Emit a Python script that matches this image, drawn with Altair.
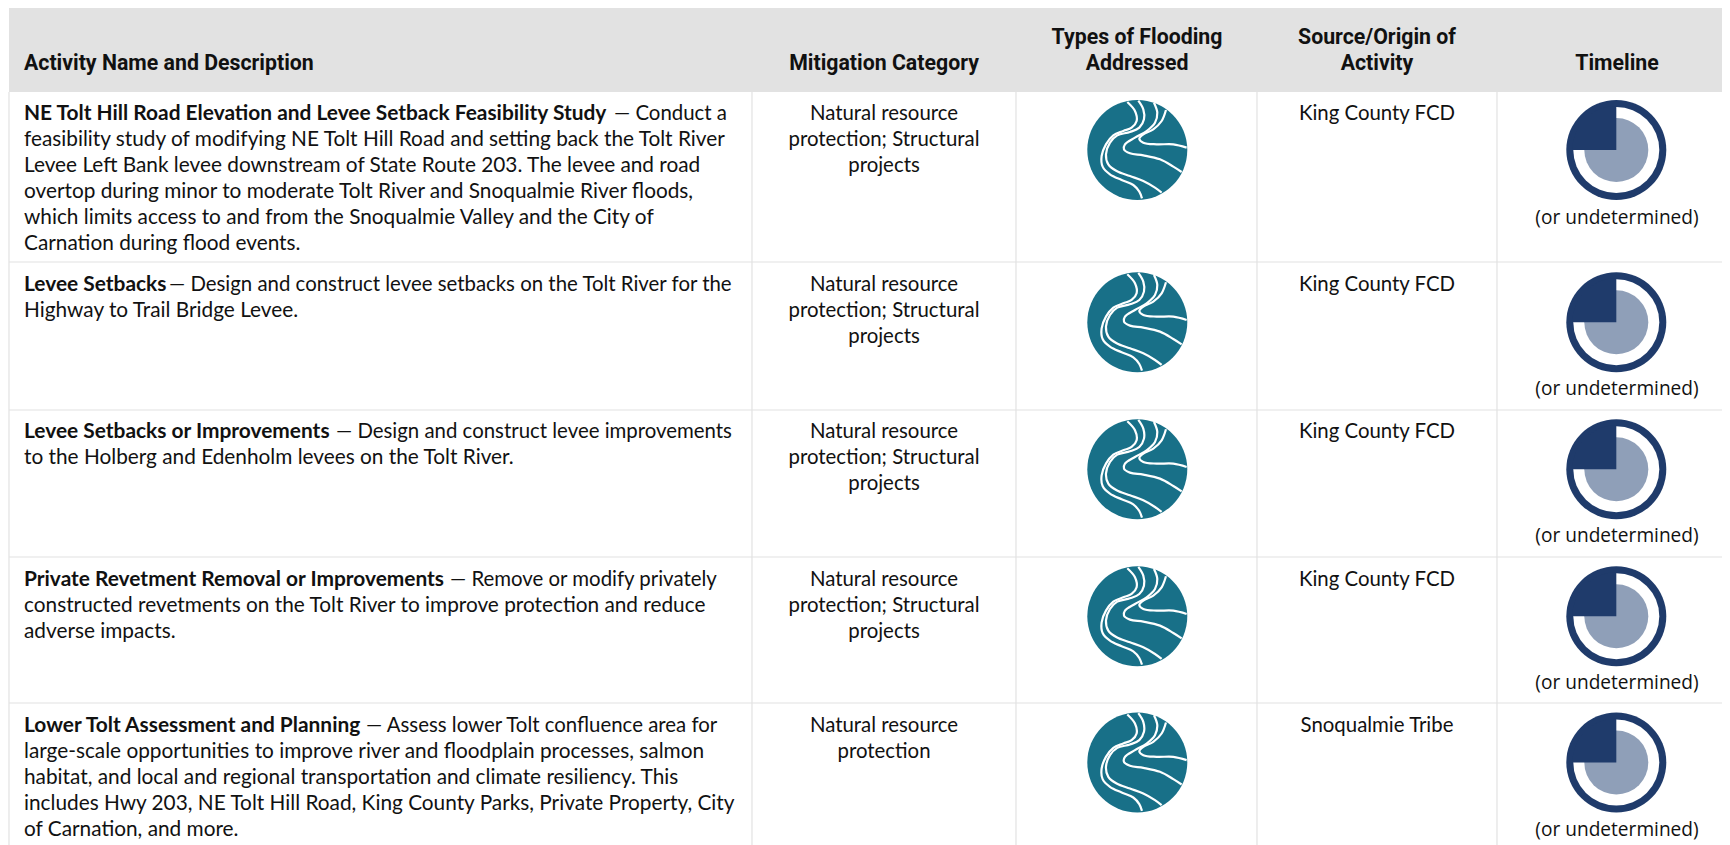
import math
import altair as alt
import pandas as pd

# ---- table content ----
HEADERS = [
    ["Activity Name and Description"],
    ["Mitigation Category"],
    ["Types of Flooding", "Addressed"],
    ["Source/Origin of", "Activity"],
    ["Timeline"],
]
ACTIVITY_BOLD = [
    "NE Tolt Hill Road Elevation and Levee Setback Feasibility Study",
    "Levee Setbacks",
    "Levee Setbacks or Improvements",
    "Private Revetment Removal or Improvements",
    "Lower Tolt Assessment and Planning",
]
ACTIVITY_FIRST_REST = [
    "\u2014 Conduct a",
    "\u2014 Design and construct levee setbacks on the Tolt River for the",
    "\u2014 Design and construct levee improvements",
    "\u2014 Remove or modify privately",
    "\u2014 Assess lower Tolt confluence area for",
]
ACTIVITY_LINES = [
    ["feasibility study of modifying NE Tolt Hill Road and setting back the Tolt River",
     "Levee Left Bank levee downstream of State Route 203. The levee and road",
     "overtop during minor to moderate Tolt River and Snoqualmie River floods,",
     "which limits access to and from the Snoqualmie Valley and the City of",
     "Carnation during flood events."],
    ["Highway to Trail Bridge Levee."],
    ["to the Holberg and Edenholm levees on the Tolt River."],
    ["constructed revetments on the Tolt River to improve protection and reduce",
     "adverse impacts."],
    ["large-scale opportunities to improve river and floodplain processes, salmon",
     "habitat, and local and regional transportation and climate resiliency. This",
     "includes Hwy 203, NE Tolt Hill Road, King County Parks, Private Property, City",
     "of Carnation, and more."],
]
CATEGORY_LINES = [
    ["Natural resource", "protection; Structural", "projects"],
    ["Natural resource", "protection; Structural", "projects"],
    ["Natural resource", "protection; Structural", "projects"],
    ["Natural resource", "protection; Structural", "projects"],
    ["Natural resource", "protection"],
]
SOURCES = ["King County FCD", "King County FCD", "King County FCD", "King County FCD", "Snoqualmie Tribe"]
TIMELINE_NOTE = "(or undetermined)"

# river icon curves
CURVES = {
    "a": ([142, 165, 170, 155, 130, 100, 78, 65, 68, 90, 125, 160, 178, 186],
          [28, 55, 85, 105, 115, 128, 155, 190, 222, 245, 262, 277, 297, 317]),
    "b": ([175, 190, 192, 178, 150, 112, 90, 78, 85, 110, 150, 190, 225, 245],
          [24, 50, 80, 105, 118, 128, 150, 185, 215, 235, 250, 265, 285, 300]),
    "c": ([222, 232, 225, 200, 165, 135, 132, 150, 190, 240, 280, 305],
          [30, 60, 90, 115, 135, 155, 170, 182, 188, 200, 222, 238]),
    "d": ([258, 245, 220, 190, 178, 190, 230, 280, 320],
          [52, 85, 110, 125, 138, 150, 155, 155, 165]),
}

# ---- layout (page pixels) ----
ROW_TOPS = [92, 262, 410, 557, 703]
FIRST_LINE = [114, 285, 432, 580, 726]
ICON_Y = [150, 322.3, 469.3, 616.3, 762.5]
NOTE_Y = [218, 389, 536, 683, 830]
COL_LINES = [752, 1016, 1257, 1497]
COL_CENTERS = [None, 884, 1137, 1377, 1617]
ICON_X, CLOCK_X = 1137.3, 1616.3
DASH_X = [614, 169, 336, 450, 366]
LEFT_X = 24
LH = 25.9
BOTTOM = 845
RIGHT = 1722

BODY_FONT = "Lato"
HEAD_FONT = "Roboto"

xs = alt.Scale(domain=[8, 1722], range=[0, 1714], nice=False, zero=False)
ys = alt.Scale(domain=[8, 845], range=[0, 837], nice=False, zero=False)
X = alt.X("x:Q", scale=xs, axis=None)
Y = alt.Y("y:Q", scale=ys, axis=None)

# header
header_bg = alt.Chart(pd.DataFrame([{"x": 9, "x2": RIGHT, "y": 8, "y2": ROW_TOPS[0]}])).mark_rect(color="#e2e2e2").encode(
    x=X, x2="x2:Q", y=Y, y2="y2:Q")

rules_h = pd.DataFrame([{"x": 9, "x2": RIGHT, "y": t, "y2": t} for t in ROW_TOPS[1:]])
rules_v = pd.DataFrame([{"x": c, "x2": c, "y": ROW_TOPS[0], "y2": BOTTOM} for c in [9] + COL_LINES])
rules = pd.concat([rules_h, rules_v])
rule_layer = alt.Chart(rules).mark_rule(color="#e2e2e2", strokeWidth=1.2).encode(x=X, x2="x2:Q", y=Y, y2="y2:Q")

head_rows = []
for j, lines in enumerate(HEADERS):
    n = len(lines)
    for i, t in enumerate(lines):
        yy = 64 - (n - 1 - i) * 26
        head_rows.append({"x": LEFT_X if j == 0 else COL_CENTERS[j], "y": yy, "t": t, "a": "left" if j == 0 else "center"})
head_df = pd.DataFrame(head_rows)
head_left = alt.Chart(head_df[head_df.a == "left"]).mark_text(
    font=HEAD_FONT, fontWeight="bold", fontSize=21.3, align="left", baseline="middle", color="#111111"
).encode(x=X, y=Y, text="t:N")
head_center = alt.Chart(head_df[head_df.a == "center"]).mark_text(
    font=HEAD_FONT, fontWeight="bold", fontSize=21.3, align="center", baseline="middle", color="#111111"
).encode(x=X, y=Y, text="t:N")

# body text
bold_df = pd.DataFrame([{"x": LEFT_X, "y": FIRST_LINE[r], "t": ACTIVITY_BOLD[r]} for r in range(5)])
bold_layer = alt.Chart(bold_df).mark_text(
    font=BODY_FONT, fontWeight="bold", fontSize=20.9, align="left", baseline="middle", color="#111111"
).encode(x=X, y=Y, text="t:N")

rest_df = pd.DataFrame([{"x": DASH_X[r], "y": FIRST_LINE[r], "t": ACTIVITY_FIRST_REST[r]} for r in range(5)])
rest_layer = alt.Chart(rest_df).mark_text(
    font=BODY_FONT, fontSize=20.4, align="left", baseline="middle", color="#111111"
).encode(x=X, y=Y, text="t:N")

reg_rows = []
for r in range(5):
    for i, t in enumerate(ACTIVITY_LINES[r]):
        reg_rows.append({"x": LEFT_X, "y": FIRST_LINE[r] + LH * (i + 1), "t": t})
reg_layer = alt.Chart(pd.DataFrame(reg_rows)).mark_text(
    font=BODY_FONT, fontSize=20.8, align="left", baseline="middle", color="#111111"
).encode(x=X, y=Y, text="t:N")

center_rows = []
for r in range(5):
    for i, t in enumerate(CATEGORY_LINES[r]):
        center_rows.append({"x": COL_CENTERS[1], "y": FIRST_LINE[r] + LH * i, "t": t})
    center_rows.append({"x": COL_CENTERS[3], "y": FIRST_LINE[r], "t": SOURCES[r]})
center_layer = alt.Chart(pd.DataFrame(center_rows)).mark_text(
    font=BODY_FONT, fontSize=20.4, align="center", baseline="middle", color="#111111"
).encode(x=X, y=Y, text="t:N")

note_df = pd.DataFrame([{"x": COL_CENTERS[4], "y": y, "t": TIMELINE_NOTE} for y in NOTE_Y])
note_layer = alt.Chart(note_df).mark_text(
    font="Open Sans", fontSize=19.1, align="center", baseline="middle", color="#111111"
).encode(x=X, y=Y, text="t:N")

# river icons
icon_df = pd.DataFrame([{"x": ICON_X, "y": y} for y in ICON_Y])
icon_disc = alt.Chart(icon_df).mark_arc(radius=50, theta=0, theta2=2 * math.pi, color="#187088").encode(x=X, y=Y)

curve_rows = []
for r, cy in enumerate(ICON_Y):
    for name, (cx_list, cy_list) in CURVES.items():
        for k, (px, py) in enumerate(zip(cx_list, cy_list)):
            curve_rows.append({"x": ICON_X + (px - 172) / 3, "y": cy + (py - 172) / 3, "id": f"{r}{name}", "k": k})
curve_layer = alt.Chart(pd.DataFrame(curve_rows)).mark_line(
    color="#ffffff", strokeWidth=2.2, interpolate="catmull-rom"
).encode(x=X, y=Y, detail="id:N", order="k:Q")

# timeline clocks
clock_df = pd.DataFrame([{"x": CLOCK_X, "y": y} for y in ICON_Y])
clock_outer = alt.Chart(clock_df).mark_arc(radius=50, theta=0, theta2=2 * math.pi, color="#1f3b6b").encode(x=X, y=Y)
clock_white = alt.Chart(clock_df).mark_arc(radius=43, theta=0, theta2=2 * math.pi, color="#ffffff").encode(x=X, y=Y)
clock_light = alt.Chart(clock_df).mark_arc(radius=32, theta=0, theta2=2 * math.pi, color="#8f9fb8").encode(x=X, y=Y)
clock_wedge = alt.Chart(clock_df).mark_arc(radius=44, theta=1.5 * math.pi, theta2=2 * math.pi, color="#1f3b6b").encode(x=X, y=Y)

chart = alt.layer(
    header_bg, rule_layer, head_left, head_center, bold_layer, rest_layer, reg_layer, center_layer, note_layer,
    icon_disc, curve_layer, clock_outer, clock_white, clock_light, clock_wedge,
).properties(width=1714, height=837, padding=0, autosize=alt.AutoSizeParams(type="none")).configure_view(stroke=None)

chart.save("out.html", embed_options={"renderer": "svg", "actions": False})
